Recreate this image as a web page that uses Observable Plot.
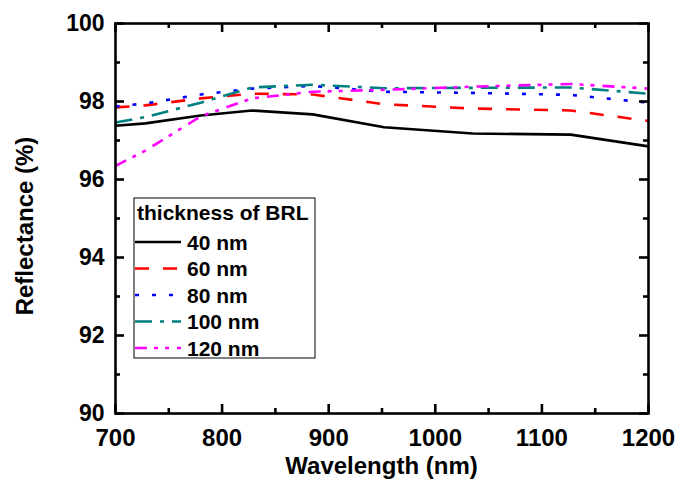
<!DOCTYPE html>
<html>
<head>
<meta charset="utf-8">
<script src="https://cdn.jsdelivr.net/npm/d3@7"></script>
<script src="https://cdn.jsdelivr.net/npm/@observablehq/plot@0.6"></script>
<style>
  html, body { margin: 0; padding: 0; background: #fff; }
  #chart { position: relative; width: 676px; height: 491px; }
</style>
</head>
<body>
<div id="chart"></div>
<script>
// ---- data ----
const wavelength = [700, 728, 780, 828, 885, 952, 1035, 1127, 1200];
const r40  = [97.38, 97.44, 97.64, 97.77, 97.67, 97.34, 97.18, 97.15, 96.85];
const r60  = [97.85, 97.90, 98.08, 98.20, 98.18, 97.93, 97.82, 97.77, 97.50];
const r80  = [97.87, 97.95, 98.18, 98.33, 98.40, 98.25, 98.22, 98.17, 97.97];
const r100 = [97.46, 97.60, 97.97, 98.36, 98.43, 98.34, 98.35, 98.36, 98.20];
const r120 = [96.35, 96.74, 97.62, 98.08, 98.25, 98.30, 98.38, 98.45, 98.33];
const seriesNames = ["40 nm", "60 nm", "80 nm", "100 nm", "120 nm"];
const seriesValues = [r40, r60, r80, r100, r120];
const seriesColors = ["#000000", "#ff0000", "#0000ff", "#008080", "#ff00ff"];
const seriesDash = [null, "14,14", "4,13", "17,8,4,8", "12,7,4,7,4,8"];
const legendTitle = "thickness of BRL";
const xTicksMajor = [700, 800, 900, 1000, 1100, 1200];
const xTicksMinor = [750, 850, 950, 1050, 1150];
const yTicksMajor = [90, 92, 94, 96, 98, 100];
const yTicksMinor = [91, 93, 95, 97, 99];
const xTitle = "Wavelength (nm)";
const yTitle = "Reflectance (%)";

const W = 676, H = 491;
const mL = 115, mR = 28, mT = 23, mB = 78;
const innerW = W - mL - mR, innerH = H - mT - mB;
const FONT = "'Liberation Sans', Arial, sans-serif";

const lineMarks = seriesValues.map((vals, k) =>
  Plot.line(wavelength, {
    x: d => d,
    y: (d, i) => vals[i],
    stroke: seriesColors[k],
    strokeWidth: 2.6,
    strokeDasharray: seriesDash[k] || undefined,
    strokeLinecap: "butt"
  })
);

const tickStyle = {stroke: "black", strokeWidth: 2.6};

const plot = Plot.plot({
  width: W,
  height: H,
  marginLeft: mL, marginRight: mR, marginTop: mT, marginBottom: mB,
  x: {domain: [700, 1200]},
  y: {domain: [90, 100]},
  style: {fontFamily: FONT, fontWeight: "bold", background: "white", color: "black"},
  marks: [
    ...lineMarks,
    // inward ticks: bottom, top
    Plot.ruleX(xTicksMajor, {x: d => d, ...tickStyle, insetTop: innerH - 9}),
    Plot.ruleX(xTicksMinor, {x: d => d, ...tickStyle, insetTop: innerH - 5}),
    Plot.ruleX(xTicksMajor, {x: d => d, ...tickStyle, insetBottom: innerH - 9}),
    Plot.ruleX(xTicksMinor, {x: d => d, ...tickStyle, insetBottom: innerH - 5}),
    // inward ticks: left, right
    Plot.ruleY(yTicksMajor, {y: d => d, ...tickStyle, insetRight: innerW - 9}),
    Plot.ruleY(yTicksMinor, {y: d => d, ...tickStyle, insetRight: innerW - 5}),
    Plot.ruleY(yTicksMajor, {y: d => d, ...tickStyle, insetLeft: innerW - 9}),
    Plot.ruleY(yTicksMinor, {y: d => d, ...tickStyle, insetLeft: innerW - 5}),
    Plot.frame({stroke: "black", strokeWidth: 2.6}),
    Plot.axisX({ticks: xTicksMajor, tickSize: 0, tickPadding: 15, fontSize: 24, fontWeight: "bold",
                tickFormat: d => String(d), label: null}),
    Plot.axisY({ticks: yTicksMajor, tickSize: 0, tickPadding: 11, fontSize: 23, fontWeight: "bold",
                tickFormat: d => String(d), label: null})
  ]
});

document.getElementById("chart").appendChild(plot);

const svg = d3.select(plot);
// axis titles
svg.append("text")
  .attr("x", mL + innerW / 2).attr("y", 474)
  .attr("text-anchor", "middle")
  .style("font-family", FONT).style("font-weight", "bold").style("font-size", "24px")
  .attr("fill", "black")
  .text(xTitle);
svg.append("text")
  .attr("transform", `translate(33,226) rotate(-90)`)
  .attr("text-anchor", "middle")
  .style("font-family", FONT).style("font-weight", "bold").style("font-size", "24px")
  .attr("fill", "black")
  .text(yTitle);

// legend
const lg = svg.append("g").attr("text-anchor", "start");
lg.append("rect")
  .attr("x", 134).attr("y", 198).attr("width", 181).attr("height", 160)
  .attr("fill", "white").attr("stroke", "black").attr("stroke-width", 1);
lg.append("text")
  .attr("x", 137).attr("y", 220)
  .attr("text-anchor", "start")
  .style("font-family", FONT).style("font-weight", "bold").style("font-size", "21px")
  .attr("fill", "black").text(legendTitle);
seriesNames.forEach((name, k) => {
  const cy = 242 + k * 26.5;
  lg.append("line")
    .attr("x1", 135).attr("x2", 181).attr("y1", cy).attr("y2", cy)
    .attr("stroke", seriesColors[k]).attr("stroke-width", 2.6)
    .attr("stroke-dasharray", seriesDash[k] || null);
  lg.append("text")
    .attr("x", 187).attr("y", cy).attr("dy", "0.36em")
    .attr("text-anchor", "start")
    .style("font-family", FONT).style("font-weight", "bold").style("font-size", "21px")
    .attr("fill", "black").text(name);
});
</script>
</body>
</html>
